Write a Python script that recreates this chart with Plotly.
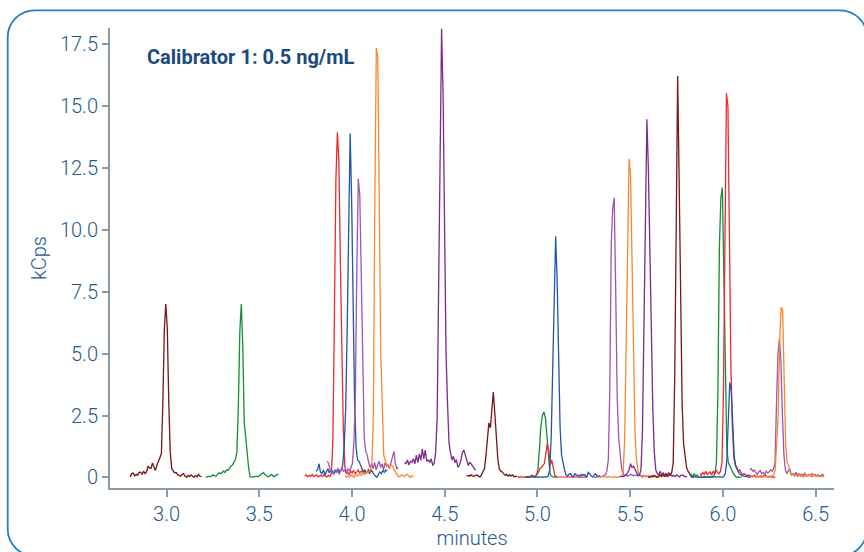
import plotly.graph_objects as go

# ---------------- data (kCps vs minutes) ----------------
DT = 0.008  # sampling interval, minutes

s01_t0 = 2.804  # maroon, peak ~3.00
s01 = [0.02,0.15,0.17,0.06,0.12,0.08,0.2,0.21,0.12,0.25,
       0.15,0.22,0.45,0.38,0.36,0.58,0.42,0.28,0.49,0.62,
       0.75,0.95,3.0,6.0,7.0,6.0,3.0,1.0,0.35,0.28,
       0.18,0.2,0.1,0.08,0.05,0.12,0.15,0.04,0.0,0.08,
       0.03,0.1,0.05,0.0,0.08,0.02,0.12,0.05,0.03]

s02_t0 = 3.211  # green, peak ~3.40
s02 = [0.0,0.02,0.05,0.02,0.08,0.1,0.06,0.05,0.12,0.18,
       0.15,0.22,0.25,0.2,0.3,0.28,0.38,0.45,0.5,0.65,
       0.72,1.0,2.8,5.9,7.0,5.3,2.2,1.6,0.82,0.35,
       0.02,0.0,0.03,0.02,0.05,0.02,0.06,0.1,0.15,0.2,
       0.1,0.05,0.02,0.04,0.12,0.08,0.03,0.06,0.1,0.15]

s03_t0 = 3.745  # red, peak ~3.92
s03 = [0.05,0.1,0.02,0.08,0.04,0.12,0.03,0.07,0.1,0.02,
       0.06,0.09,0.03,0.1,0.05,0.02,0.08,0.04,0.15,1.5,
       6.5,12.0,13.95,12.8,8.8,4.8,2.0,0.45,0.15,0.2,
       0.12,0.25,0.18,0.28,0.15,0.22,0.3,0.18,0.25,0.2,
       0.3,0.15,0.24,0.32,0.2,0.28,0.22]

s04_t0 = 3.806  # blue, peak ~3.99
s04 = [0.25,0.3,0.55,0.2,0.15,0.3,0.1,0.22,0.35,0.18,
       0.3,0.25,0.12,0.3,0.2,0.35,0.22,0.3,0.5,1.3,
       2.8,6.0,10.5,13.9,11.2,6.2,3.0,1.2,0.7,0.65,
       0.5,0.3,0.2,0.28,0.18,0.25,0.15,0.3,0.2,0.12,
       0.05,0.0,0.1,0.22,0.15,0.28,0.2,0.3,0.25]

s05_t0 = 3.866  # light purple, peak ~4.03
s05 = [0.65,0.55,0.3,0.25,0.15,0.3,0.2,0.35,0.12,0.28,
       0.4,0.22,0.3,0.18,0.35,0.25,0.4,0.55,1.4,3.2,
       8.5,12.07,11.4,7.5,4.2,1.6,1.05,0.9,0.6,0.4,
       0.55,0.35,0.6,0.3,0.5,0.65,0.4,0.55,0.3,0.6,
       0.45,0.5,0.35,0.6,0.9,1.05,0.55,0.35,0.4]

s06_t0 = 3.963  # orange, peak ~4.13
s06 = [0.05,0.0,0.08,0.02,0.1,0.05,0.0,0.12,0.06,0.1,
       0.15,0.08,0.2,0.12,0.18,0.25,0.2,0.3,0.5,2.5,
       11.0,17.35,17.0,10.0,5.0,3.0,0.9,0.7,0.45,0.55,
       0.4,0.5,0.45,0.3,0.2,0.1,0.02,0.05,0.1,0.08,
       0.02,0.1,0.12,0.05,0.0,0.06,0.02]

s07_t0 = 4.283  # dark purple, peak ~4.48
s07 = [0.6,0.55,0.7,0.5,0.65,0.6,0.75,0.55,0.9,0.6,
       0.95,0.7,1.15,0.75,1.1,0.65,0.7,0.6,0.75,0.5,
       0.55,1.0,2.4,7.5,15.0,18.13,15.5,9.0,5.0,3.0,
       1.4,1.0,0.7,0.85,0.6,0.72,0.4,0.5,0.68,1.0,
       1.1,0.9,0.7,0.48,0.62,0.55,0.45,0.35,0.3]

s08_t0 = 4.618  # maroon, peak ~4.76
s08 = [0.05,0.08,0.05,0.1,0.06,0.04,0.08,0.1,0.05,0.02,
       0.1,0.2,0.35,0.85,1.5,2.2,2.0,2.6,3.45,2.6,
       1.6,0.75,0.35,0.25,0.22,0.15,0.08,0.12,0.05,0.1,
       0.06,0.1,0.02,0.05,0.03]

s09_t0 = 4.931  # green, peak ~5.03
s09 = [0.02,0.0,0.03,0.0,0.02,0.05,0.02,0.03,0.1,0.35,
       1.2,2.1,2.5,2.64,2.4,1.7,0.8,0.2,0.05,0.02,
       0.0,0.03,0.0]

s10_t0 = 4.893  # red, peak ~5.05
s10 = [0.02,0.0,0.03,0.01,0.02,0.0,0.03,0.02,0.0,0.02,
       0.01,0.03,0.05,0.1,0.2,0.35,0.4,0.5,0.55,0.95,
       1.36,1.1,0.5,0.7,0.4,0.1,0.02,0.02,0.0,0.03,
       0.01,0.0,0.02,0.03,0.0,0.01,0.02,0.0,0.03,0.01,
       0.02,0.0,0.02,0.01,0.03,0.0,0.02,0.01]

s11_t0 = 4.938  # blue, peak ~5.10
s11 = [0.0,0.02,0.0,0.05,0.08,0.04,0.0,0.02,0.0,0.03,
       0.0,0.02,0.0,0.03,0.01,0.05,0.3,1.6,4.5,8.2,
       9.74,8.0,4.8,2.0,0.9,0.5,0.3,0.1,0.05,0.12,
       0.15,0.05,0.03,0.15,0.08,0.1,0.03,0.12,0.08,0.12,
       0.05,0.02,0.2,0.15,0.05,0.02,0.1,0.15,0.03,0.05,
       0.08]

s12_t0 = 5.302  # light purple, peak ~5.41
s12 = [0.02,0.0,0.03,0.01,0.05,0.02,0.04,0.08,0.1,0.25,
       0.7,3.5,9.5,10.9,11.3,7.5,3.2,1.6,0.8,0.35,
       0.15,0.08,0.1,0.05,0.08,0.12,0.1,0.06,0.1,0.08,
       0.05,0.1,0.06,0.04,0.08,0.05,0.02,0.06,0.03]

s13_t0 = 5.334  # orange, peak ~5.49
s13 = [0.0,0.02,0.05,0.01,0.03,0.0,0.02,0.04,0.01,0.0,
       0.03,0.02,0.0,0.04,0.02,0.05,0.2,1.5,5.6,10.5,
       12.88,12.2,8.5,4.5,1.8,0.75,0.25,0.08,0.03,0.0,
       0.05,0.02,0.06,0.03,0.0,0.04,0.08,0.02,0.05,0.03,
       0.0,0.06,0.02,0.04,0.07,0.03,0.02]

s14_t0 = 5.446  # dark purple, peak ~5.59
s14 = [0.02,0.05,0.03,0.06,0.1,0.18,0.3,0.55,0.4,0.45,
       0.32,0.2,0.08,0.1,0.3,1.8,6.5,12.0,14.47,12.5,
       9.0,5.8,2.8,1.0,0.3,0.15,0.1,0.25,0.1,0.18,
       0.05,0.1,0.03,0.08,0.12,0.05,0.08,0.03,0.1,0.06,
       0.02,0.08,0.1,0.05,0.02,0.04]

s15_t0 = 5.596  # maroon, peak ~5.76
s15 = [0.03,0.0,0.05,0.02,0.08,0.03,0.0,0.05,0.1,0.04,
       0.12,0.06,0.15,0.08,0.18,0.1,0.2,0.6,4.0,10.0,
       16.22,12.0,7.5,3.0,1.35,0.8,0.4,0.25,0.12,0.05,
       0.02,0.0]

s16_t0 = 5.821  # green, peak ~6.00
s16 = [0.05,0.12,0.03,0.15,0.05,0.1,0.02,0.0,0.02,0.0,
       0.03,0.01,0.02,0.0,0.03,0.02,0.05,0.15,0.6,3.5,
       9.3,11.3,11.71,8.0,3.6,1.2,0.6,0.5,0.35,0.2,
       0.1,0.03,0.0,0.02,0.0,0.01]

s17_t0 = 5.875  # red, peak ~6.02
s17 = [0.15,0.08,0.2,0.12,0.25,0.1,0.18,0.22,0.1,0.25,
       0.15,0.3,0.2,0.15,0.25,0.6,3.5,10.5,15.52,15.0,
       9.0,4.5,2.0,0.8,0.5,0.42,0.25,0.3,0.18,0.1,
       0.15,0.08,0.05,0.1,0.06,0.02,0.05,0.08,0.03,0.05,
       0.02,0.06,0.03,0.05,0.1,0.04,0.02,0.05,0.03,0.0,
       0.02,0.0]

s18_t0 = 5.829  # blue, peak ~6.04
s18 = [0.0,0.02,0.01,0.03,0.0,0.02,0.0,0.01,0.03,0.02,
       0.0,0.02,0.04,0.01,0.0,0.03,0.02,0.0,0.01,0.03,
       0.02,0.0,0.05,0.15,0.7,2.7,3.84,3.5,2.0,0.85,
       0.45,0.3,0.2,0.12,0.08,0.05,0.03,0.05,0.02,0.0,
       0.02]

s19_t0 = 6.145  # light purple, peak ~6.30
s19 = [0.3,0.35,0.25,0.3,0.2,0.12,0.22,0.28,0.15,0.2,
       0.12,0.25,0.18,0.22,0.3,0.25,0.35,0.6,3.0,5.0,
       5.6,4.6,2.5,0.9,0.3,0.15,0.28,0.35,0.1,0.15,
       0.08,0.2,0.1,0.15,0.05,0.12,0.08,0.18,0.05,0.1,
       0.12,0.06,0.15,0.08,0.12,0.05,0.1,0.04,0.08,0.12,
       0.05]

s20_t0 = 6.170  # orange, peak ~6.31
s20 = [0.02,0.0,0.03,0.01,0.02,0.0,0.03,0.02,0.0,0.02,
       0.01,0.03,0.05,0.1,0.3,1.2,2.5,5.5,6.88,6.75,
       3.4,1.4,0.6,0.5,0.2,0.08,0.12,0.05,0.1,0.03,
       0.08,0.12,0.05,0.02,0.08,0.1,0.04,0.12,0.06,0.02,
       0.08,0.05,0.1,0.03,0.06,0.02,0.05,0.02]

x_tick_vals = [3.0, 3.5, 4.0, 4.5, 5.0, 5.5, 6.0, 6.5]
x_tick_text = ["3.0", "3.5", "4.0", "4.5", "5.0", "5.5", "6.0", "6.5"]
y_tick_vals = [0, 2.5, 5.0, 7.5, 10.0, 12.5, 15.0, 17.5]
y_tick_text = ["0", "2.5", "5.0", "7.5", "10.0", "12.5", "15.0", "17.5"]

# ---------------- styling ----------------
MAROON = "#7a1518"
GREEN = "#1a8a3c"
RED = "#ee2a2d"
BLUE = "#2256a6"
LPURPLE = "#a055b2"
ORANGE = "#f7882f"
DPURPLE = "#7b2a8e"

series = [
    (s01_t0, s01, MAROON), (s02_t0, s02, GREEN), (s03_t0, s03, RED),
    (s04_t0, s04, BLUE), (s05_t0, s05, LPURPLE), (s06_t0, s06, ORANGE),
    (s07_t0, s07, DPURPLE), (s08_t0, s08, MAROON), (s09_t0, s09, GREEN),
    (s10_t0, s10, RED), (s11_t0, s11, BLUE), (s12_t0, s12, LPURPLE),
    (s13_t0, s13, ORANGE), (s14_t0, s14, DPURPLE), (s15_t0, s15, MAROON),
    (s16_t0, s16, GREEN), (s17_t0, s17, RED), (s18_t0, s18, BLUE),
    (s19_t0, s19, LPURPLE), (s20_t0, s20, ORANGE),
]

fig = go.Figure()
for t0, vals, col in series:
    fig.add_trace(go.Scatter(x0=t0, dx=DT, y=vals, mode="lines",
                             line=dict(color=col, width=1.3),
                             showlegend=False, hoverinfo="skip"))

W, H = 864, 552
ML, MR, MT, MB = 110, 30, 28, 64
PW, PH = W - ML - MR, H - MT - MB

def px(x):
    return (x - ML) / PW

def py(y):
    return (H - MB - y) / PH

# rounded border (pixel geometry -> paper coordinates); right/bottom edges run off-page
bx0, bx1, by0, by1, r = 7.7, 867.0, 10.3, 556.0, 27
k = 0.5523 * r
pts = [
    ("M", [(bx0 + r, by0)]),
    ("L", [(bx1 - r, by0)]),
    ("C", [(bx1 - r + k, by0), (bx1, by0 + r - k), (bx1, by0 + r)]),
    ("L", [(bx1, by1 - r)]),
    ("C", [(bx1, by1 - r + k), (bx1 - r + k, by1), (bx1 - r, by1)]),
    ("L", [(bx0 + r, by1)]),
    ("C", [(bx0 + r - k, by1), (bx0, by1 - r + k), (bx0, by1 - r)]),
    ("L", [(bx0, by0 + r)]),
    ("C", [(bx0, by0 + r - k), (bx0 + r - k, by0), (bx0 + r, by0)]),
]
path = ""
for cmd, cs in pts:
    path += cmd + " " + " ".join(f"{px(a):.5f},{py(b):.5f}" for a, b in cs) + " "
path += "Z"

AXIS_COL = "#8a9aa6"
TEXT_COL = "#245a8c"
FONT = "Roboto"
FS = 20
FW = 300

fig.update_layout(
    width=W, height=H,
    margin=dict(l=ML, r=MR, t=MT, b=MB, autoexpand=False),
    paper_bgcolor="white", plot_bgcolor="white",
    font=dict(family=FONT, size=FS, color=TEXT_COL, weight=FW),
    shapes=[dict(type="path", path=path, xref="paper", yref="paper",
                 line=dict(color="#1f7fcc", width=1.8), layer="above")],
    annotations=[dict(text="<b>Calibrator 1: 0.5 ng/mL</b>", x=px(145), y=py(57),
                      xref="paper", yref="paper", xanchor="left", yanchor="middle",
                      showarrow=False,
                      font=dict(family=FONT, size=20, color="#1b4b7e", weight="bold"))],
)
fig.update_xaxes(range=[2.695, 6.599], tickvals=x_tick_vals, ticktext=x_tick_text,
                 automargin=False,
                 showline=True, linecolor=AXIS_COL, linewidth=2,
                 ticks="outside", ticklen=7, tickwidth=1.5, tickcolor=AXIS_COL,
                 showgrid=False, zeroline=False,
                 tickfont=dict(family=FONT, size=FS, color=TEXT_COL, weight=FW),
                 title=dict(text="minutes", standoff=1,
                            font=dict(family=FONT, size=FS, color=TEXT_COL, weight=FW)))
fig.update_yaxes(range=[-0.43, 18.16], tickvals=y_tick_vals, ticktext=y_tick_text,
                 automargin=False,
                 showline=True, linecolor=AXIS_COL, linewidth=2,
                 ticks="outside", ticklen=6, tickwidth=1.5, tickcolor=AXIS_COL,
                 showgrid=False, zeroline=False,
                 tickfont=dict(family=FONT, size=FS, color=TEXT_COL, weight=FW),
                 title=dict(text="kCps", standoff=8,
                            font=dict(family=FONT, size=FS, color=TEXT_COL, weight=FW)))

# remove the browser's default page margin so the figure starts at (0, 0)
fig.write_html("out.html", config={"displayModeBar": False},
               post_script="document.body.style.margin='0';document.body.style.overflow='hidden';")
